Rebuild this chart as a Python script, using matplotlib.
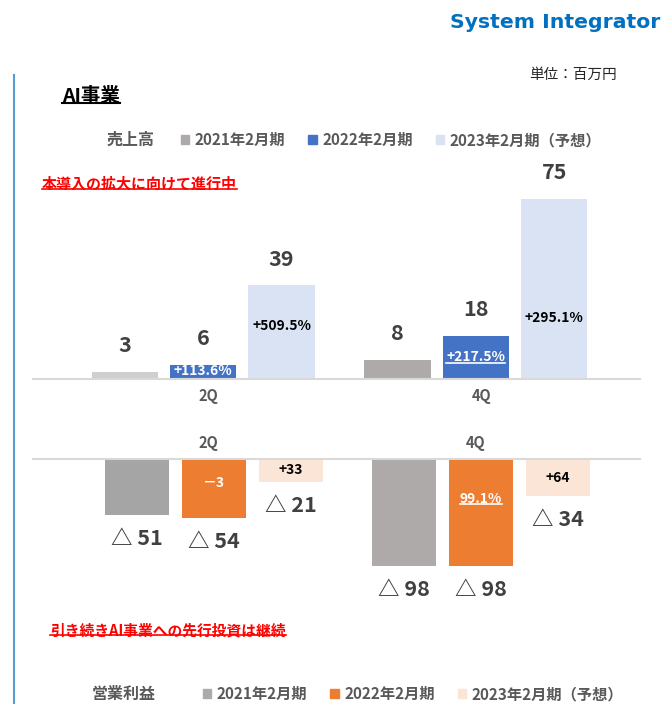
import matplotlib.pyplot as plt
from matplotlib.patches import Patch
from matplotlib.lines import Line2D
import matplotlib.transforms as mtransforms

plt.rcParams['font.family'] = ['Noto Sans CJK JP', 'DejaVu Sans']

# データ
quarters = ['2Q', '4Q']
periods = ['2021年2月期', '2022年2月期', '2023年2月期（予想）']
sales_2021 = [3, 8]
sales_2022 = [6, 18]
sales_2023 = [39, 75]
sales_growth_2022 = ['+113.6%', '+217.5%']
sales_growth_2023 = ['+509.5%', '+295.1%']
profit_2021 = [-51, -98]
profit_2022 = [-54, -98]
profit_2023 = [-21, -34]
profit_change_2022 = ['－3', '99.1%']
profit_change_2023 = ['+33', '+64']

# 表示位置（ラベルの高さ）
sales_growth_y_2022 = [3.3, 9.2]
sales_growth_y_2023 = [22, 25.4]
profit_change_y_2022 = [-22, -37]

W, H = 664, 704
fig = plt.figure(figsize=(W / 100, H / 100), dpi=100)


def fx(px):
    return px / W


def fy(py):
    return 1 - py / H


def underline(t, color, lw, pad=0.0):
    fig.canvas.draw()
    bb = t.get_window_extent()
    inv = fig.transFigure.inverted()
    (x0, y0), (x1, _) = inv.transform([[bb.x0, bb.y0], [bb.x1, bb.y0]])
    fig.add_artist(Line2D([x0, x1], [y0 + pad / H] * 2, color=color, lw=lw,
                          transform=fig.transFigure))


dark = '#404040'
mid = '#595959'

# 売上高
ax1 = fig.add_axes([fx(33), fy(379), fx(640) - fx(33), 180 / H])
off, bw = 0.2875, 0.242
xs = list(range(len(quarters)))
ax1.bar([x - off for x in xs], sales_2021, bw, color=['#d0cece', '#aeaaaa'])
ax1.bar(xs, sales_2022, bw, color='#4472c4')
ax1.bar([x + off for x in xs], sales_2023, bw, color='#dae3f3')
ax1.set_xlim(-0.623, 1.601)
ax1.set_ylim(0, 75)
ax1.axis('off')
ax1.axhline(0, color='#d9d9d9', lw=1.5, clip_on=False)

for vals, dx in [(sales_2021, -off), (sales_2022, 0), (sales_2023, off)]:
    for x, v in zip(xs, vals):
        ax1.annotate(str(v), (x + dx, v), xytext=(0, 19), textcoords='offset points',
                     ha='center', va='center', fontsize=15.5, fontweight='bold',
                     color=dark, annotation_clip=False)

g_texts = []
for x, s, y in zip(xs, sales_growth_2022, sales_growth_y_2022):
    g_texts.append(ax1.text(x, y, s, ha='center', va='center', fontsize=10,
                            fontweight='bold', color='white'))
for x, s, y in zip(xs, sales_growth_2023, sales_growth_y_2023):
    ax1.text(x + off, y, s, ha='center', va='center', fontsize=10,
             fontweight='bold', color='black')

tr1 = mtransforms.blended_transform_factory(ax1.transData, fig.transFigure)
for x, q in zip(xs, quarters):
    ax1.text(x + 0.02, fy(396), q, transform=tr1, ha='center', va='center',
             fontsize=10.5, fontweight='bold', color=mid)

# 営業利益
ax2 = fig.add_axes([fx(33), fy(566), fx(640) - fx(33), 107 / H])
off2, bw2 = 0.288, 0.24
ax2.bar([x - off2 for x in xs], profit_2021, bw2, color=['#a5a5a5', '#aeaaaa'])
ax2.bar(xs, profit_2022, bw2, color='#ed7d31')
ax2.bar([x + off2 for x in xs], profit_2023, bw2, color='#fbe5d6')
ax2.set_xlim(-0.678, 1.596)
ax2.set_ylim(-98, 0)
ax2.axis('off')
ax2.axhline(0, color='#d9d9d9', lw=1.5, clip_on=False)

for vals, dx in [(profit_2021, -off2), (profit_2022, 0), (profit_2023, off2)]:
    for x, v in zip(xs, vals):
        ax2.annotate(f'△ {-v}', (x + dx, v), xytext=(0, -17), textcoords='offset points',
                     ha='center', va='center', fontsize=15.5, fontweight='bold',
                     color=dark, annotation_clip=False)

c_texts = []
for x, s, y in zip(xs, profit_change_2022, profit_change_y_2022):
    c_texts.append(ax2.text(x, y, s, ha='center', va='center', fontsize=10,
                            fontweight='bold', color='white'))
for x, s, v in zip(xs, profit_change_2023, profit_2023):
    ax2.text(x + off2, v / 2, s, ha='center', va='center', fontsize=10,
             fontweight='bold', color='black')

tr2 = mtransforms.blended_transform_factory(ax2.transData, fig.transFigure)
for x, q in zip(xs, quarters):
    ax2.text(x - 0.02, fy(443), q, transform=tr2, ha='center', va='center',
             fontsize=10.5, fontweight='bold', color=mid)

# 見出し・注記
fig.text(fx(660), fy(22), 'System Integrator', ha='right', va='center',
         fontsize=14.7, fontweight='bold', color='#0070c0', family='DejaVu Sans')
fig.add_artist(Line2D([fx(14), fx(14)], [fy(75), fy(704)], color='#5b9bd5', lw=1.5,
                      transform=fig.transFigure))
fig.text(fx(617), fy(75), '単位：百万円', ha='right', va='center', fontsize=10.5, color='#262626')
t_title = fig.text(fx(62), fy(96), 'AI事業', ha='left', va='center', fontsize=14,
                   fontweight='bold', color='black')
t_red1 = fig.text(fx(42), fy(184), '本導入の拡大に向けて進行中', ha='left', va='center',
                  fontsize=10.8, fontweight='bold', color='#ff0000')
t_red2 = fig.text(fx(50), fy(630), '引き続きAI事業への先行投資は継続', ha='left', va='center',
                  fontsize=10.6, fontweight='bold', color='#ff0000')

# 凡例
legend_kw = dict(loc='center left', ncol=3, frameon=False, handlelength=0.55,
                 handleheight=0.55, handletextpad=0.35, columnspacing=1.5,
                 borderpad=0, borderaxespad=0,
                 prop={'size': 11, 'weight': 'bold'}, labelcolor=mid)
fig.text(fx(131), fy(140), '売上高', ha='center', va='center', fontsize=11.5,
         fontweight='bold', color=mid)
h1 = [Patch(color=c) for c in ['#aeaaaa', '#4472c4', '#dae3f3']]
fig.legend(h1, periods, bbox_to_anchor=(fx(181), fy(140)), **legend_kw)
fig.text(fx(124), fy(694), '営業利益', ha='center', va='center', fontsize=11.5,
         fontweight='bold', color=mid)
h2 = [Patch(color=c) for c in ['#aeaaaa', '#ed7d31', '#fbe5d6']]
fig.legend(h2, periods, bbox_to_anchor=(fx(203), fy(694)), **legend_kw)

underline(t_title, 'black', 1.5, pad=3)
underline(t_red1, '#ff0000', 1.2, pad=3)
underline(t_red2, '#ff0000', 1.2, pad=3)
underline(g_texts[1], 'white', 1.2, pad=1)
underline(c_texts[1], 'white', 1.2, pad=2)

fig.savefig('out.png', dpi=100)
